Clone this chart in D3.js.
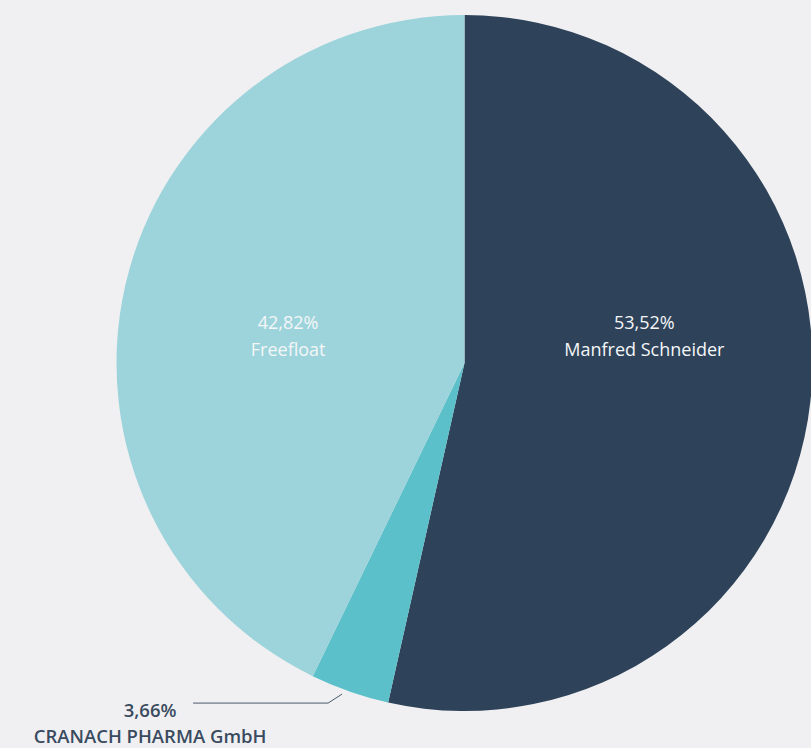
<!DOCTYPE html>
<html>
<head>
<meta charset="utf-8">
<script src="https://cdn.jsdelivr.net/npm/d3@7"></script>
<style>
  html, body { margin: 0; padding: 0; background: #f0f0f2; }
  svg { display: block; }
</style>
</head>
<body>
<svg id="chart" width="811" height="748"></svg>
<script>
const categories = ["Manfred Schneider", "CRANACH PHARMA GmbH", "Freefloat"];
const values = [53.52, 3.66, 42.82];
const valueLabels = ["53,52%", "3,66%", "42,82%"];
const colors = ["#2e4259", "#5bc0c9", "#9dd4db"];

const svg = d3.select("#chart");
const cx = 464.5, cy = 363, R = 348;
const g = svg.append("g").attr("transform", `translate(${cx},${cy})`);

const data = categories.map((c, i) => ({ name: c, value: values[i], label: valueLabels[i], color: colors[i] }));
const pie = d3.pie().value(d => d.value).sort(null);
const arcs = pie(data);
const arc = d3.arc().innerRadius(0).outerRadius(R);

g.selectAll("path.slice").data(arcs).enter().append("path")
  .attr("class", "slice")
  .attr("d", arc)
  .attr("fill", d => d.data.color);

const font = "'Open Sans', sans-serif";

// inside labels (large slices)
const inside = arcs.filter(a => a.data.value > 10);
inside.forEach(a => {
  const mid = (a.startAngle + a.endAngle) / 2;
  const x = Math.sin(mid) * R * 0.52;
  const y = -34;
  const t = g.append("text")
    .attr("x", x).attr("y", y)
    .attr("text-anchor", "middle")
    .attr("fill", "#f4f6f8")
    .style("font-family", font)
    .style("font-size", "18px")
    .style("font-weight", 500);
  t.append("tspan").attr("x", x).attr("dy", 0).text(a.data.label);
  t.append("tspan").attr("x", x).attr("dy", 27).text(a.data.name);
});

// outside label (small slice)
const small = arcs.filter(a => a.data.value <= 10);
small.forEach(a => {
  const mid = (a.startAngle + a.endAngle) / 2 + 0.018;
  const p0 = [Math.sin(mid) * (R + 5), -Math.cos(mid) * (R + 5)];
  const p1 = [p0[0] - 14, p0[1] + 9];
  const p2 = [p1[0] - 135, p1[1]];
  g.append("polyline")
    .attr("points", [p0, p1, p2].map(p => p.join(",")).join(" "))
    .attr("fill", "none")
    .attr("stroke", "#4a5a6c")
    .attr("stroke-width", 1);
  const tx = p2[0] - 43;
  const t = g.append("text")
    .attr("x", tx).attr("y", p2[1] + 14)
    .attr("text-anchor", "middle")
    .attr("fill", "#3a4b5f")
    .style("font-family", font)
    .style("font-size", "18.5px")
    .style("font-weight", 600);
  t.append("tspan").attr("x", tx).attr("dy", 0).text(a.data.label);
  t.append("tspan").attr("x", tx).attr("dy", 26).text(a.data.name);
});
</script>
</body>
</html>
